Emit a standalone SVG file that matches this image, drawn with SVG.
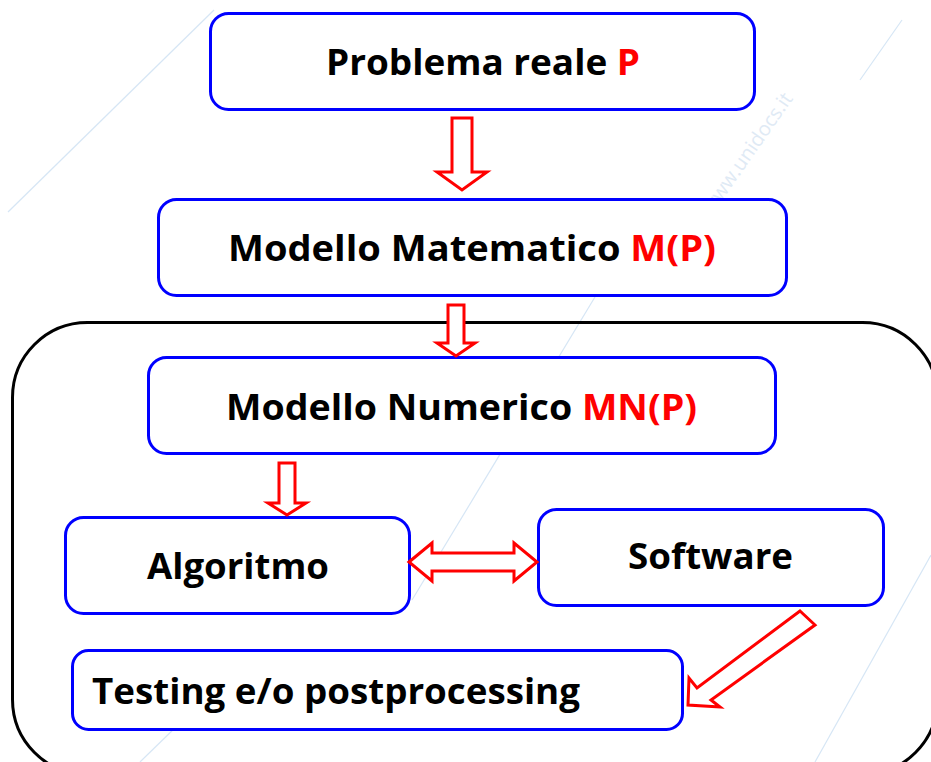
<svg xmlns="http://www.w3.org/2000/svg" width="931" height="762" viewBox="0 0 931 762">
  <style>
    .node { fill: #ffffff; stroke: #0000ff; stroke-width: 3; }
    .frame { fill: none; stroke: #000000; stroke-width: 3; }
    .arrow { fill: #ffffff; stroke: #ff0000; stroke-width: 3; stroke-linejoin: miter; }
    .label { font-family: "Open Sans", "Noto Sans", "Liberation Sans", sans-serif; font-weight: 700; font-size: 36px; fill: #000000; }
    .red { fill: #ff0000; }
    .mark { stroke: #d6e6f5; stroke-width: 1.2; fill: none; }
    .marktext { font-family: "Open Sans", "Liberation Sans", sans-serif; font-size: 20px; fill: #dfeaf5; }
  </style>

  <rect width="931" height="762" fill="#ffffff"/>

  <!-- faint background guide lines -->
  <g id="background">
    <line class="mark" x1="8" y1="212" x2="214" y2="10"/>
    <line class="mark" x1="598" y1="292" x2="412" y2="600"/>
    <line class="mark" x1="360" y1="650" x2="300" y2="730"/>
    <line class="mark" x1="255" y1="650" x2="140" y2="762"/>
    <line class="mark" x1="931" y1="555" x2="815" y2="762"/>
    <line class="mark" x1="902" y1="20" x2="860" y2="80"/>
    <text class="marktext" transform="translate(712,215) rotate(-55)">www.unidocs.it</text>
  </g>

  <!-- outer frame grouping the numerical stages -->
  <rect class="frame" x="12.5" y="322.5" width="925" height="452" rx="75" ry="75"/>

  <g id="problema">
    <rect class="node" x="210.5" y="13.5" width="544" height="96" rx="18" ry="18"/>
    <text class="label" x="326" y="75" textLength="314" lengthAdjust="spacingAndGlyphs">Problema reale <tspan class="red">P</tspan></text>
  </g>

  <g id="modello-matematico">
    <rect class="node" x="158.5" y="199.5" width="628" height="96" rx="18" ry="18"/>
    <text class="label" x="228" y="261" textLength="488" lengthAdjust="spacingAndGlyphs">Modello Matematico <tspan class="red">M(P)</tspan></text>
  </g>

  <g id="modello-numerico">
    <rect class="node" x="148.5" y="357.5" width="627" height="96" rx="18" ry="18"/>
    <text class="label" x="226" y="420" textLength="471" lengthAdjust="spacingAndGlyphs">Modello Numerico <tspan class="red">MN(P)</tspan></text>
  </g>

  <g id="algoritmo">
    <rect class="node" x="65.5" y="517.5" width="344" height="96" rx="18" ry="18"/>
    <text class="label" x="147" y="579" textLength="182" lengthAdjust="spacingAndGlyphs">Algoritmo</text>
  </g>

  <g id="software">
    <rect class="node" x="538.5" y="509.5" width="345" height="96" rx="18" ry="18"/>
    <text class="label" x="628" y="569" textLength="165" lengthAdjust="spacingAndGlyphs">Software</text>
  </g>

  <g id="testing">
    <rect class="node" x="72.5" y="650.5" width="610" height="79" rx="16" ry="16"/>
    <text class="label" x="92" y="704" textLength="488" lengthAdjust="spacingAndGlyphs">Testing e/o postprocessing</text>
  </g>

  <!-- block arrows between stages -->
  <g id="connectors">
    <polygon class="arrow" points="452,118 472,118 472,172 487,172 462,190 437,172 452,172"/>
    <polygon class="arrow" points="448,305 464,305 464,343 475,343 456,356 437,343 448,343"/>
    <polygon class="arrow" points="279,463 295,463 295,503 306,503 287,515 268,503 279,503"/>
    <polygon class="arrow" points="409,562 432,543 432,553 514,553 514,543 537,562 514,581 514,571 432,571 432,581"/>
    <polygon class="arrow" points="800,611 815,625 711,700 720,707 688,705 689,678 697,688"/>
  </g>
</svg>
